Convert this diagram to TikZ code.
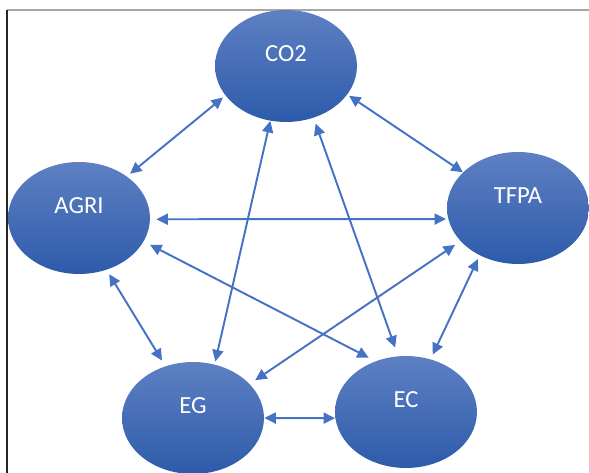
\documentclass[tikz,border=0pt]{standalone}
\usepackage{fontspec}
\setmainfont{Carlito}
\usetikzlibrary{arrows.meta,shapes.geometric}
\definecolor{NodeTop}{RGB}{94,128,195}
\definecolor{NodeBottom}{RGB}{45,91,170}
\definecolor{LinkBlue}{RGB}{68,114,196}

\begin{document}
\begin{tikzpicture}[x=0.02cm,y=-0.02cm,
    var/.style={ellipse,draw=none,top color=NodeTop,bottom color=NodeBottom,
                minimum width=2.84cm,minimum height=2.24cm,inner sep=0pt,
                text=white,font=\fontsize{14}{16}\selectfont,
                text height=0.34cm,text depth=0.52cm},
    link/.style={LinkBlue,line width=1.1pt,
                 {Triangle[length=0.23cm,width=0.22cm]}-{Triangle[length=0.23cm,width=0.22cm]}}]
  \useasboundingbox (0,0) rectangle (589,473);
  \clip (0,0) rectangle (589,473);
  % frame
  \draw[gray!70,line width=0.8pt] (7,10) -- (589,10);
  \draw[black!85,line width=0.8pt] (7,10) -- (7,473);
  % variables
  \node[var] (co2)  at (286,66)  {CO2};
  \node[var] (agri) at (79,218)  {AGRI};
  \node[var] (tfpa) at (518,208) {TFPA};
  \node[var] (eg)   at (193,418) {EG};
  \node[var] (ec)   at (406,412) {EC};
  % links
  \draw[link,shorten <=0.06cm,shorten >=0.08cm] (co2.206) -- (agri.41);
  \draw[link,shorten <=0.04cm] (co2.335) -- (tfpa.147);
  \draw[link,shorten >=0.06cm] (co2.254) -- (eg.68);
  \draw[link,shorten <=0.12cm,shorten >=0.18cm] (co2.298) -- (ec.98);
  \draw[link,shorten <=0.12cm,shorten >=0.04cm] (agri.359) -- (tfpa.189);
  \draw[link,shorten <=0.1cm,shorten >=0.13cm] (agri.298) -- (eg.118);
  \draw[link,shorten <=0.14cm,shorten >=0.15cm] (agri.340) -- (ec.121);
  \draw[link,shorten <=0.13cm,shorten >=0.13cm] (tfpa.210) -- (eg.31);
  \draw[link,shorten <=0.08cm,shorten >=0.1cm] (tfpa.231) -- (ec.65);
  \draw[link] (eg.0) -- (ec.185);
\end{tikzpicture}
\end{document}
